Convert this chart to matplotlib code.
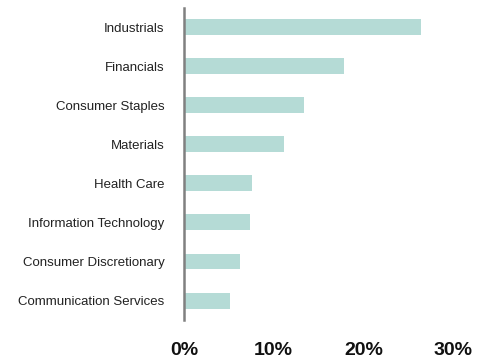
import matplotlib
matplotlib.use('Agg')
import matplotlib.pyplot as plt
from matplotlib.ticker import FuncFormatter

# sector weights, top to bottom
sectors = ['Industrials', 'Financials', 'Consumer Staples', 'Materials',
           'Health Care', 'Information Technology', 'Consumer Discretionary',
           'Communication Services']
weights = [26.4, 17.9, 13.4, 11.2, 7.6, 7.4, 6.3, 5.1]

fig = plt.figure(figsize=(4.84, 3.62), dpi=100)
ax = fig.add_axes([0.380, 0.116, 0.556, 0.862])

ypos = list(range(len(sectors)))[::-1]
ax.barh(ypos, weights, height=0.41, color='#b5dbd6')

ax.set_xlim(0, 30)
ax.set_ylim(-0.5, 7.5)
ax.set_xticks([0, 10, 20, 30])
ax.xaxis.set_major_formatter(FuncFormatter(lambda v, p: f'{v:.0f}%'))
ax.set_yticks(ypos)
ax.set_yticklabels(sectors)

for s in ['top', 'right', 'bottom']:
    ax.spines[s].set_visible(False)
ax.spines['left'].set_color('#808080')
ax.spines['left'].set_linewidth(1.8)

ax.tick_params(axis='both', length=0)
ax.tick_params(axis='x', pad=16)
ax.tick_params(axis='y', pad=14)
for lab in ax.get_xticklabels():
    lab.set_fontfamily(['Liberation Sans', 'DejaVu Sans'])
    lab.set_fontweight('bold')
    lab.set_fontsize(14)
    lab.set_color('#111111')
for lab in ax.get_yticklabels():
    lab.set_fontfamily(['Liberation Sans', 'DejaVu Sans'])
    lab.set_fontsize(9.5)
    lab.set_color('#222222')

fig.savefig('out.png', dpi=100)
